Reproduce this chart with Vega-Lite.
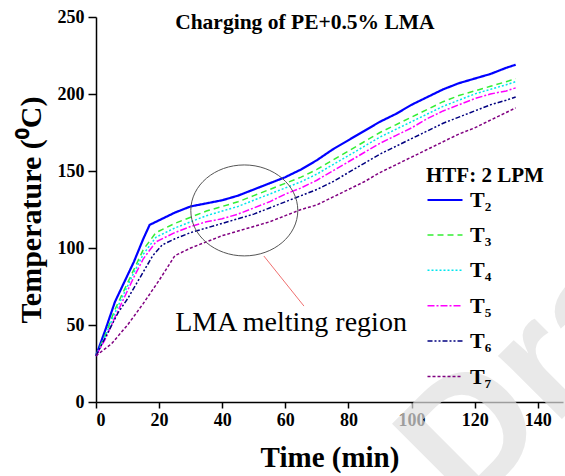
{
  "$schema": "https://vega.github.io/schema/vega-lite/v6.json",
  "width": 467,
  "height": 385,
  "autosize": {"type": "none"},
  "padding": {"left": 96, "top": 17, "right": 2, "bottom": 74},
  "background": "white",
  "config": {"view": {"stroke": null}, "font": "Liberation Serif", "axis": {"labelFont": "Liberation Serif", "titleFont": "Liberation Serif"}},
  "datasets": {
    "temps": [
      {"series":"T₂","t":0,"T":30},{"series":"T₂","t":3,"T":47},{"series":"T₂","t":6,"T":65},{"series":"T₂","t":9,"T":78},{"series":"T₂","t":12,"T":91},{"series":"T₂","t":15,"T":106},{"series":"T₂","t":17,"T":115},{"series":"T₂","t":20,"T":118},{"series":"T₂","t":25,"T":123},{"series":"T₂","t":30,"T":127},{"series":"T₂","t":35,"T":129},{"series":"T₂","t":40,"T":131},{"series":"T₂","t":45,"T":134},{"series":"T₂","t":50,"T":138},{"series":"T₂","t":55,"T":142},{"series":"T₂","t":60,"T":146},{"series":"T₂","t":65,"T":151},{"series":"T₂","t":70,"T":157},{"series":"T₂","t":75,"T":164},{"series":"T₂","t":80,"T":170},{"series":"T₂","t":85,"T":176},{"series":"T₂","t":90,"T":182},{"series":"T₂","t":95,"T":187},{"series":"T₂","t":100,"T":193},{"series":"T₂","t":105,"T":198},{"series":"T₂","t":110,"T":203},{"series":"T₂","t":115,"T":207},{"series":"T₂","t":120,"T":210},{"series":"T₂","t":125,"T":213},{"series":"T₂","t":130,"T":217},{"series":"T₂","t":133,"T":219},
      {"series":"T₃","t":0,"T":30},{"series":"T₃","t":3,"T":44},{"series":"T₃","t":6,"T":60},{"series":"T₃","t":9,"T":73},{"series":"T₃","t":12,"T":86},{"series":"T₃","t":15,"T":99},{"series":"T₃","t":19,"T":110},{"series":"T₃","t":25,"T":116},{"series":"T₃","t":30,"T":120},{"series":"T₃","t":35,"T":124},{"series":"T₃","t":40,"T":127},{"series":"T₃","t":45,"T":130},{"series":"T₃","t":50,"T":134},{"series":"T₃","t":55,"T":138},{"series":"T₃","t":60,"T":142},{"series":"T₃","t":65,"T":146},{"series":"T₃","t":70,"T":151},{"series":"T₃","t":75,"T":157},{"series":"T₃","t":80,"T":163},{"series":"T₃","t":85,"T":169},{"series":"T₃","t":90,"T":175},{"series":"T₃","t":95,"T":180},{"series":"T₃","t":100,"T":185},{"series":"T₃","t":105,"T":190},{"series":"T₃","t":110,"T":195},{"series":"T₃","t":115,"T":199},{"series":"T₃","t":120,"T":202},{"series":"T₃","t":125,"T":205},{"series":"T₃","t":130,"T":208},{"series":"T₃","t":133,"T":210},
      {"series":"T₄","t":0,"T":30},{"series":"T₄","t":3,"T":43},{"series":"T₄","t":6,"T":58},{"series":"T₄","t":9,"T":71},{"series":"T₄","t":12,"T":84},{"series":"T₄","t":15,"T":96},{"series":"T₄","t":19,"T":107},{"series":"T₄","t":25,"T":113},{"series":"T₄","t":30,"T":117},{"series":"T₄","t":35,"T":121},{"series":"T₄","t":40,"T":124},{"series":"T₄","t":45,"T":127},{"series":"T₄","t":50,"T":131},{"series":"T₄","t":55,"T":135},{"series":"T₄","t":60,"T":139},{"series":"T₄","t":65,"T":143},{"series":"T₄","t":70,"T":148},{"series":"T₄","t":75,"T":154},{"series":"T₄","t":80,"T":160},{"series":"T₄","t":85,"T":166},{"series":"T₄","t":90,"T":172},{"series":"T₄","t":95,"T":177},{"series":"T₄","t":100,"T":182},{"series":"T₄","t":105,"T":187},{"series":"T₄","t":110,"T":192},{"series":"T₄","t":115,"T":196},{"series":"T₄","t":120,"T":200},{"series":"T₄","t":125,"T":203},{"series":"T₄","t":130,"T":206},{"series":"T₄","t":133,"T":208},
      {"series":"T₅","t":0,"T":30},{"series":"T₅","t":3,"T":41},{"series":"T₅","t":6,"T":55},{"series":"T₅","t":9,"T":68},{"series":"T₅","t":12,"T":81},{"series":"T₅","t":15,"T":93},{"series":"T₅","t":19,"T":104},{"series":"T₅","t":25,"T":110},{"series":"T₅","t":30,"T":114},{"series":"T₅","t":35,"T":117},{"series":"T₅","t":40,"T":119},{"series":"T₅","t":45,"T":122},{"series":"T₅","t":50,"T":126},{"series":"T₅","t":55,"T":130},{"series":"T₅","t":60,"T":135},{"series":"T₅","t":65,"T":139},{"series":"T₅","t":70,"T":144},{"series":"T₅","t":75,"T":150},{"series":"T₅","t":80,"T":156},{"series":"T₅","t":85,"T":162},{"series":"T₅","t":90,"T":168},{"series":"T₅","t":95,"T":173},{"series":"T₅","t":100,"T":178},{"series":"T₅","t":105,"T":184},{"series":"T₅","t":110,"T":189},{"series":"T₅","t":115,"T":193},{"series":"T₅","t":120,"T":197},{"series":"T₅","t":125,"T":200},{"series":"T₅","t":130,"T":202},{"series":"T₅","t":133,"T":204},
      {"series":"T₆","t":0,"T":30},{"series":"T₆","t":3,"T":42},{"series":"T₆","t":7,"T":58},{"series":"T₆","t":10,"T":67},{"series":"T₆","t":14,"T":81},{"series":"T₆","t":18,"T":95},{"series":"T₆","t":21,"T":102},{"series":"T₆","t":25,"T":106},{"series":"T₆","t":30,"T":110},{"series":"T₆","t":35,"T":113},{"series":"T₆","t":40,"T":116},{"series":"T₆","t":45,"T":119},{"series":"T₆","t":50,"T":122},{"series":"T₆","t":55,"T":126},{"series":"T₆","t":60,"T":130},{"series":"T₆","t":65,"T":134},{"series":"T₆","t":70,"T":138},{"series":"T₆","t":75,"T":143},{"series":"T₆","t":80,"T":149},{"series":"T₆","t":85,"T":155},{"series":"T₆","t":90,"T":161},{"series":"T₆","t":95,"T":166},{"series":"T₆","t":100,"T":171},{"series":"T₆","t":105,"T":176},{"series":"T₆","t":110,"T":181},{"series":"T₆","t":115,"T":185},{"series":"T₆","t":120,"T":189},{"series":"T₆","t":125,"T":193},{"series":"T₆","t":130,"T":196},{"series":"T₆","t":133,"T":198},
      {"series":"T₇","t":0,"T":30},{"series":"T₇","t":5,"T":38},{"series":"T₇","t":10,"T":50},{"series":"T₇","t":15,"T":64},{"series":"T₇","t":20,"T":79},{"series":"T₇","t":25,"T":95},{"series":"T₇","t":30,"T":100},{"series":"T₇","t":35,"T":104},{"series":"T₇","t":40,"T":108},{"series":"T₇","t":45,"T":111},{"series":"T₇","t":50,"T":114},{"series":"T₇","t":55,"T":117},{"series":"T₇","t":60,"T":121},{"series":"T₇","t":65,"T":125},{"series":"T₇","t":70,"T":128},{"series":"T₇","t":75,"T":133},{"series":"T₇","t":80,"T":138},{"series":"T₇","t":85,"T":143},{"series":"T₇","t":90,"T":149},{"series":"T₇","t":95,"T":154},{"series":"T₇","t":100,"T":159},{"series":"T₇","t":105,"T":164},{"series":"T₇","t":110,"T":169},{"series":"T₇","t":115,"T":174},{"series":"T₇","t":120,"T":178},{"series":"T₇","t":125,"T":183},{"series":"T₇","t":130,"T":188},{"series":"T₇","t":133,"T":191}
    ]
  },
  "layer": [
    {
      "data": {"values": [{"t": 117.5, "T": -73, "label": "Draft"}]},
      "mark": {"type": "text", "font": "Liberation Sans", "fontSize": 170, "fontWeight": "bold", "color": "#e0e0e0", "opacity": 0.7, "angle": -45, "align": "left", "baseline": "alphabetic"},
      "encoding": {"x": {"field": "t", "type": "quantitative"}, "y": {"field": "T", "type": "quantitative"}, "text": {"field": "label"}}
    },
    {
      "data": {"name": "temps"},
      "mark": {"type": "line"},
      "encoding": {
        "x": {
          "field": "t", "type": "quantitative",
          "scale": {"domain": [0, 148], "nice": false, "zero": false},
          "title": "Time (min)",
          "axis": {
            "values": [0,10,20,30,40,50,60,70,80,90,100,110,120,130,140],
            "labelExpr": "datum.value % 20 === 0 ? datum.label : ''",
            "tickSize": {"condition": {"test": "datum.value % 20 === 0", "value": 6}, "value": 4},
            "grid": false, "domainColor": "black", "domainWidth": 1.5,
            "tickColor": "black", "tickWidth": 1.5,
            "labelFont": "Liberation Serif", "labelFontSize": 18, "labelFontWeight": "bold", "labelColor": "black", "labelPadding": 3,
            "titleFont": "Liberation Serif", "titleFontSize": 29, "titleFontWeight": "bold", "titleColor": "black", "titlePadding": 14
          }
        },
        "y": {
          "field": "T", "type": "quantitative",
          "scale": {"domain": [0, 250], "nice": false},
          "title": "Temperature (⁰C)",
          "axis": {
            "values": [0,25,50,75,100,125,150,175,200,225,250],
            "labelExpr": "datum.value % 50 === 0 ? datum.label : ''",
            "tickSize": {"condition": {"test": "datum.value % 50 === 0", "value": 8}, "value": 5},
            "grid": false, "domainColor": "black", "domainWidth": 1.5,
            "tickColor": "black", "tickWidth": 1.5,
            "labelFont": "Liberation Serif", "labelFontSize": 18, "labelFontWeight": "bold", "labelColor": "black", "labelPadding": 4,
            "titleFont": "Liberation Serif", "titleFontSize": 30, "titleFontWeight": "bold", "titleColor": "black", "titlePadding": 11
          }
        },
        "color": {
          "field": "series", "type": "nominal", "title": "HTF: 2 LPM",
          "scale": {"domain": ["T₂","T₃","T₄","T₅","T₆","T₇"], "range": ["#0000ff","#33ee33","#00e5ee","#ff00ff","#000080","#800080"]},
          "legend": {
            "orient": "none", "legendX": 330, "legendY": 148,
            "symbolType": "stroke", "symbolSize": 1225,
            "padding": 0, "rowPadding": 5.4, "titlePadding": -5, "labelOffset": 6,
            "titleFont": "Liberation Serif", "titleFontSize": 21, "titleFontWeight": "bold", "titleColor": "black",
            "labelFont": "Liberation Serif", "labelFontSize": 22, "labelFontWeight": "bold", "labelColor": "black"
          }
        },
        "strokeDash": {
          "field": "series", "type": "nominal", "title": "HTF: 2 LPM",
          "scale": {"domain": ["T₂","T₃","T₄","T₅","T₆","T₇"], "range": [[1,0],[6,4],[2,2],[7,2,2,2],[5,2,2,2,2,2],[3,2]]}
        },
        "strokeWidth": {
          "field": "series", "type": "nominal", "title": "HTF: 2 LPM",
          "scale": {"type": "ordinal", "domain": ["T₂","T₃","T₄","T₅","T₆","T₇"], "range": [2.2,1.5,1.5,1.5,1.5,1.5]}
        }
      }
    },
    {
      "data": {"values": [{"t": 66.2, "T": 246, "label": "Charging of PE+0.5% LMA"}]},
      "mark": {"type": "text", "font": "Liberation Serif", "fontSize": 21.5, "fontWeight": "bold", "color": "black", "align": "center", "baseline": "middle"},
      "encoding": {"x": {"field": "t", "type": "quantitative"}, "y": {"field": "T", "type": "quantitative"}, "text": {"field": "label"}}
    },
    {
      "data": {"values": [{"t": 61.8, "T": 51.3, "label": "LMA melting region"}]},
      "mark": {"type": "text", "font": "Liberation Serif", "fontSize": 28, "color": "black", "align": "center", "baseline": "middle"},
      "encoding": {"x": {"field": "t", "type": "quantitative"}, "y": {"field": "T", "type": "quantitative"}, "text": {"field": "label"}}
    },
    {
      "data": {"values": [{"t": 47.0, "T": 124.4}]},
      "mark": {"type": "point", "shape": "M -1 0 A 1 0.85 0 1 1 1 0 A 1 0.85 0 1 1 -1 0 Z", "size": 11449, "filled": false, "stroke": "#555555", "strokeWidth": 1, "opacity": 1},
      "encoding": {"x": {"field": "t", "type": "quantitative"}, "y": {"field": "T", "type": "quantitative"}}
    },
    {
      "data": {"values": [{"t": 53.2, "T": 94.8, "t2": 65.9, "T2": 62.3}]},
      "mark": {"type": "rule", "color": "#f07070", "strokeWidth": 1},
      "encoding": {"x": {"field": "t", "type": "quantitative"}, "y": {"field": "T", "type": "quantitative"}, "x2": {"field": "t2"}, "y2": {"field": "T2"}}
    }
  ]
}
